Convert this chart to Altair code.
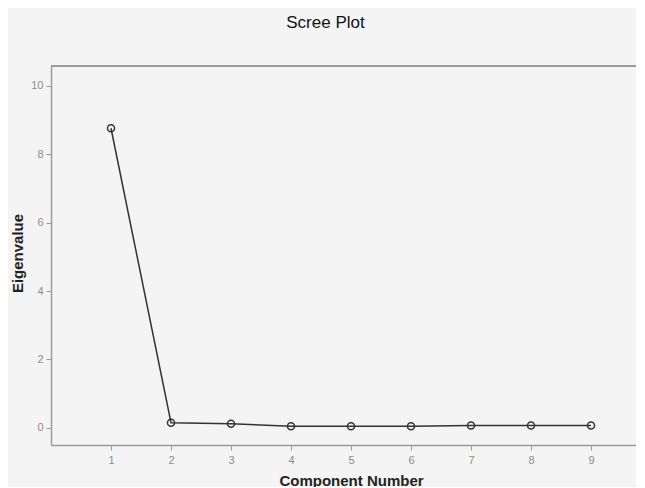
import altair as alt
import pandas as pd

components = [1, 2, 3, 4, 5, 6, 7, 8, 9]
eigenvalues = [8.76, 0.15, 0.12, 0.05, 0.05, 0.05, 0.07, 0.07, 0.07]
x_ticks = [1, 2, 3, 4, 5, 6, 7, 8, 9]
y_ticks = [0, 2, 4, 6, 8, 10]

df = pd.DataFrame({"Component Number": components, "Eigenvalue": eigenvalues})

W, H = 585, 379
FONT = "Liberation Sans"
DARK = "#333333"
GRAY = "#9a9a9a"

x_enc = alt.X(
    "Component Number:Q",
    scale=alt.Scale(domain=[0, 9.75], nice=False, zero=False),
    axis=alt.Axis(
        values=x_ticks, grid=False, format="d",
        domainColor=GRAY, domainWidth=1.5, tickColor=GRAY, tickSize=5,
        labelColor="#8c8c8c", labelFontSize=11, labelFont=FONT, labelPadding=4,
        title="Component Number", titleFont=FONT, titleFontSize=15,
        titleFontWeight="bold", titleColor="#222222",
        titleX=300, titleY=40, titleAlign="center", titleBaseline="alphabetic",
    ),
)
y_enc = alt.Y(
    "Eigenvalue:Q",
    scale=alt.Scale(domain=[-0.5, 10.58], nice=False, zero=False),
    axis=alt.Axis(
        values=y_ticks, grid=False,
        domainColor=GRAY, domainWidth=1.5, tickColor=GRAY, tickSize=5,
        labelColor="#8c8c8c", labelFontSize=11, labelFont=FONT, labelPadding=3,
        title="Eigenvalue", titleFont=FONT, titleFontSize=15,
        titleFontWeight="bold", titleColor="#222222",
        titleAngle=270, titleX=-29, titleY=187, titleAlign="center",
        titleBaseline="alphabetic",
    ),
)

base = alt.Chart(df)
line = base.mark_line(color=DARK, strokeWidth=1.5).encode(x=x_enc, y=y_enc)
points = base.mark_point(
    filled=False, size=50, color=DARK, strokeWidth=1.5, opacity=1
).encode(x="Component Number:Q", y="Eigenvalue:Q")
top_frame = base.mark_rule(color=GRAY, strokeWidth=1.5).encode(
    x=alt.value(0), x2=alt.value(W), y=alt.value(0)
)

chart = (
    alt.layer(top_frame, line, points)
    .properties(
        width=W,
        height=H,
        autosize=alt.AutoSizeParams(type="none"),
        padding={"left": 43, "top": 58, "right": 0, "bottom": 42},
        background="#f4f4f4",
        title=alt.TitleParams(
            "Scree Plot", font=FONT, fontSize=17, fontWeight="normal",
            color="#111111", anchor="middle", dx=-18, offset=20,
            baseline="alphabetic",
        ),
    )
    .configure_view(stroke=None)
)

chart.save("out.html", embed_options={"renderer": "svg", "actions": False})
